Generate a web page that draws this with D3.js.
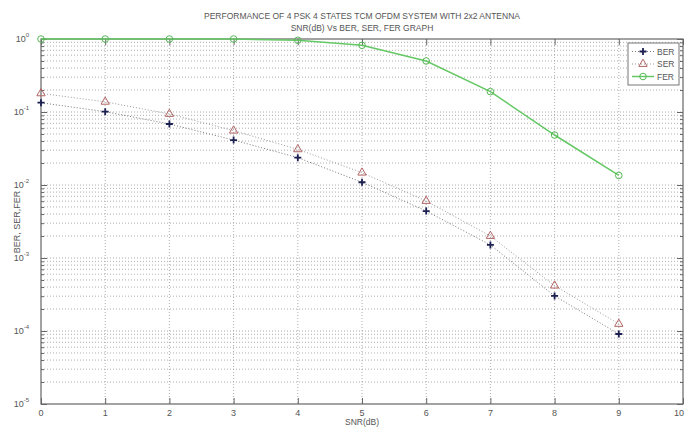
<!DOCTYPE html>
<html>
<head>
<meta charset="utf-8">
<script src="https://cdn.jsdelivr.net/npm/d3@7"></script>
<style>
  body { margin: 0; background: #fff; }
  svg { display: block; font-family: "Liberation Sans", Arial, sans-serif; }
</style>
</head>
<body>
<svg class="svg"></svg>
<script>
const snr = [0, 1, 2, 3, 4, 5, 6, 7, 8, 9];
const ber = [0.134, 0.101, 0.0685, 0.0413, 0.0237, 0.0109, 0.0044, 0.00151, 0.000302, 0.000091];
const ser = [0.18, 0.138, 0.094, 0.0555, 0.0308, 0.01475, 0.00604, 0.0020, 0.000418, 0.000125];
const fer = [1, 1, 1, 1, 0.96, 0.82, 0.5, 0.19, 0.0484, 0.0135];
const xTicks = [0, 1, 2, 3, 4, 5, 6, 7, 8, 9, 10];
const yExps = [0, -1, -2, -3, -4, -5];
const seriesNames = ['BER', 'SER', 'FER'];

const width = 685;
const height = 428;
const plot = { left: 41, right: 683, top: 39, bottom: 404 };

const svg = d3.select('.svg').attr('width', width).attr('height', height);

const x = d3.scaleLinear().domain([0, 10]).range([plot.left, plot.right]);
const y = d3.scaleLog().domain([1e-5, 1]).range([plot.bottom, plot.top]);

const textCol = '#555';
const gridCol = '#9a9a9a';

// minor + major log ticks
const yMinor = [];
yExps.slice(0, -1).forEach(e => {
  for (let m = 1; m < 10; m++) yMinor.push(m * Math.pow(10, e - 1));
});

// grid
const grid = svg.append('g');
grid.selectAll('.hg')
  .data(yMinor.filter(v => v > 1e-5))
  .join('line')
  .attr('x1', plot.left).attr('x2', plot.right)
  .attr('y1', d => y(d)).attr('y2', d => y(d))
  .attr('stroke', gridCol).attr('stroke-width', 0.8)
  .attr('stroke-dasharray', '1,2');
grid.selectAll('.vg')
  .data(xTicks.slice(1, -1))
  .join('line')
  .attr('x1', d => x(d)).attr('x2', d => x(d))
  .attr('y1', plot.top).attr('y2', plot.bottom)
  .attr('stroke', gridCol).attr('stroke-width', 0.8)
  .attr('stroke-dasharray', '1,2');

// axes (ticks inward)
const axCol = '#666';
const styleAxis = g => {
  g.select('.domain').remove();
  g.selectAll('line').attr('stroke', axCol);
  g.selectAll('text').remove();
};
const yMajor = yExps.map(e => Math.pow(10, e));
const yTickSize = d => (yMajor.some(v => Math.abs(v - d) / v < 1e-6) ? 6 : 3);

svg.append('g').attr('transform', `translate(${plot.left},0)`)
  .call(d3.axisRight(y).tickValues(yMinor.concat([1])).tickSize(3)).call(styleAxis)
  .selectAll('.tick line').attr('x2', d => yTickSize(d));
svg.append('g').attr('transform', `translate(${plot.right},0)`)
  .call(d3.axisLeft(y).tickValues(yMinor.concat([1])).tickSize(3)).call(styleAxis)
  .selectAll('.tick line').attr('x2', d => -yTickSize(d));
svg.append('g').attr('transform', `translate(0,${plot.bottom})`)
  .call(d3.axisTop(x).tickValues(xTicks).tickSize(6)).call(styleAxis);
svg.append('g').attr('transform', `translate(0,${plot.top})`)
  .call(d3.axisBottom(x).tickValues(xTicks).tickSize(6)).call(styleAxis);

svg.append('rect')
  .attr('x', plot.left).attr('y', plot.top)
  .attr('width', plot.right - plot.left).attr('height', plot.bottom - plot.top)
  .attr('fill', 'none').attr('stroke', axCol).attr('stroke-width', 1.2);

// tick labels (last one kept inside the frame)
svg.append('g').selectAll('text')
  .data(xTicks)
  .join('text')
  .attr('x', d => (d === 10 ? width - 1 : x(d))).attr('y', plot.bottom + 12)
  .attr('text-anchor', d => (d === 10 ? 'end' : 'middle'))
  .attr('font-size', 9).attr('fill', textCol)
  .text(d => d);

const yl = svg.append('g').selectAll('text')
  .data(yExps)
  .join('text')
  .attr('x', plot.left - 12).attr('y', d => y(Math.pow(10, d)) + 3)
  .attr('text-anchor', 'end').attr('font-size', 9).attr('fill', textCol);
yl.append('tspan').text('10');
yl.append('tspan').attr('font-size', 6).attr('dy', -5).text(d => d);

// titles
svg.append('text').attr('x', 362).attr('y', 19).attr('text-anchor', 'middle')
  .attr('font-size', 8.5).attr('fill', textCol)
  .text('PERFORMANCE OF 4 PSK 4 STATES TCM OFDM SYSTEM WITH 2x2 ANTENNA');
svg.append('text').attr('x', 362).attr('y', 31).attr('text-anchor', 'middle')
  .attr('font-size', 8.5).attr('fill', textCol)
  .text('SNR(dB) Vs BER, SER, FER GRAPH');
svg.append('text').attr('x', 362).attr('y', 425).attr('text-anchor', 'middle')
  .attr('font-size', 8.5).attr('fill', textCol).text('SNR(dB)');
svg.append('text')
  .attr('transform', 'translate(20,222) rotate(-90)')
  .attr('text-anchor', 'middle').attr('font-size', 9).attr('fill', textCol)
  .text('BER, SER,FER');

// series
const series = [
  { name: seriesNames[0], vals: ber, line: '#777', dash: '1,2', mark: '#1c2050', shape: 'plus' },
  { name: seriesNames[1], vals: ser, line: '#999', dash: '1,2', mark: '#b36464', shape: 'tri' },
  { name: seriesNames[2], vals: fer, line: '#64c864', dash: null, mark: '#55b855', shape: 'circle' }
];

const lineGen = d3.line().x(d => x(d[0])).y(d => y(d[1]));

function drawMarker(g, shape, color) {
  if (shape === 'plus') {
    g.append('path').attr('d', 'M-3.5,0H3.5M0,-3.5V3.5')
      .attr('stroke', color).attr('stroke-width', 1.8).attr('fill', 'none');
  } else if (shape === 'tri') {
    g.append('path').attr('d', d3.symbol(d3.symbolTriangle, 30)())
      .attr('fill', 'none').attr('stroke', color).attr('stroke-width', 1);
  } else {
    g.append('circle').attr('r', 3.3)
      .attr('fill', 'none').attr('stroke', color).attr('stroke-width', 1);
  }
}

const plotG = svg.append('g');
series.forEach(s => {
  const pts = snr.map((v, i) => [v, s.vals[i]]);
  plotG.append('path').datum(pts)
    .attr('d', lineGen)
    .attr('fill', 'none').attr('stroke', s.line)
    .attr('stroke-width', s.dash ? 1 : 1.5)
    .attr('stroke-dasharray', s.dash);
  plotG.selectAll(null).data(pts).join('g')
    .attr('transform', d => `translate(${x(d[0])},${y(d[1])})`)
    .each(function() { drawMarker(d3.select(this), s.shape, s.mark); });
});

// legend
const leg = svg.append('g').attr('transform', 'translate(628,43)');
leg.append('rect').attr('width', 51).attr('height', 42)
  .attr('fill', '#fff').attr('stroke', '#777').attr('stroke-width', 1);
series.forEach((s, i) => {
  const row = leg.append('g').attr('transform', `translate(0,${8.5 + i * 12.5})`);
  row.append('line').attr('x1', 4).attr('x2', 26)
    .attr('stroke', s.line).attr('stroke-width', s.dash ? 1 : 1.5)
    .attr('stroke-dasharray', s.dash);
  drawMarker(row.append('g').attr('transform', 'translate(15,0)'), s.shape, s.mark);
  row.append('text').attr('x', 29).attr('y', 3)
    .attr('font-size', 8.5).attr('fill', textCol).text(s.name);
});
</script>
</body>
</html>
